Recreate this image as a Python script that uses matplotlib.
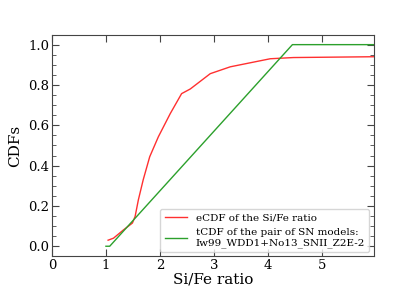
import matplotlib
matplotlib.use('Agg')
import matplotlib.pyplot as plt
from matplotlib.ticker import MultipleLocator

ecdf_x = [1.04, 1.14, 1.32, 1.49, 1.54, 1.60, 1.69, 1.81, 1.97, 2.19, 2.40, 2.56,
          2.93, 3.30, 4.04, 4.47, 5.95]
ecdf_y = [0.03, 0.04, 0.08, 0.115, 0.148, 0.23, 0.33, 0.444, 0.543, 0.658, 0.757, 0.78,
          0.856, 0.89, 0.93, 0.936, 0.94]

# theoretical CDF of the SN model pair
tcdf_x = [1.0, 1.07, 4.45, 5.95]
tcdf_y = [0.0, 0.0, 1.0, 1.0]

plt.rcParams['font.family'] = 'DejaVu Serif'

fig = plt.figure(figsize=(4.15, 2.88), dpi=100)
ax = fig.add_subplot(111)

ax.plot(ecdf_x, ecdf_y, color='#ff3030', linewidth=1.0, label='eCDF of the Si/Fe ratio')
ax.plot(tcdf_x, tcdf_y, color='#2ca02c', linewidth=1.0,
        label='tCDF of the pair of SN models:\nIw99_WDD1+No13_SNII_Z2E-2')

ax.set_xlim(0, 5.95)
ax.set_ylim(-0.05, 1.05)
ax.set_xticks([0, 1, 2, 3, 4, 5])
ax.set_yticks([0.0, 0.2, 0.4, 0.6, 0.8, 1.0])
ax.yaxis.set_minor_locator(MultipleLocator(0.05))

ax.tick_params(which='both', direction='in', top=True, right=True,
               labelsize=9.5, color='#444444', pad=2)
ax.tick_params(which='major', length=5)
ax.tick_params(which='minor', length=3)
for s in ax.spines.values():
    s.set_color('#444444')

ax.set_xlabel('Si/Fe ratio', fontsize=11, labelpad=0)
ax.set_ylabel('CDFs', fontsize=11)

ax.legend(loc='lower right', fontsize=7.5, handlelength=2.2, borderaxespad=0.4)

fig.savefig('out.png', dpi=100)
